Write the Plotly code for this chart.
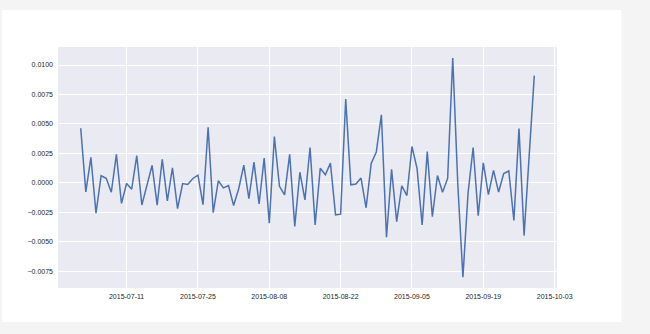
import pandas as pd
import plotly.graph_objects as go

dates = pd.date_range("2015-07-02", "2015-09-29", freq="D")
values = [
    0.00463, -0.00077, 0.00216, -0.00258, 0.00060, 0.00038, -0.00080, 0.00241, -0.00175, -0.00006,
    -0.00054, 0.00230, -0.00188, -0.00010, 0.00148, -0.00190, 0.00200, -0.00153, 0.00128, -0.00219,
    -0.00006, -0.00014, 0.00037, 0.00065, -0.00185, 0.00472, -0.00253, 0.00017, -0.00043, -0.00023,
    -0.00193, -0.00050, 0.00150, -0.00134, 0.00175, -0.00180, 0.00210, -0.00342, 0.00392, -0.00030,
    -0.00102, 0.00242, -0.00370, 0.00090, -0.00145, 0.00300, -0.00357, 0.00123, 0.00068, 0.00167,
    -0.00272, -0.00266, 0.00712, -0.00017, -0.00010, 0.00040, -0.00212, 0.00165, 0.00262, 0.00578,
    -0.00462, 0.00114, -0.00330, -0.00025, -0.00108, 0.00308, 0.00120, -0.00358, 0.00265, -0.00288,
    0.00062, -0.00080, 0.00037, 0.01060, -0.00020, -0.00802, -0.00090, 0.00300, -0.00280, 0.00170,
    -0.00100, 0.00105, -0.00078, 0.00078, 0.00100, -0.00320, 0.00460, -0.00448, 0.00230, 0.00910,
]
y_ticks = [-0.0075, -0.0050, -0.0025, 0.0, 0.0025, 0.0050, 0.0075, 0.0100]
x_ticks = ["2015-07-11", "2015-07-25", "2015-08-08", "2015-08-22",
           "2015-09-05", "2015-09-19", "2015-10-03"]

fig = go.Figure()
fig.add_trace(go.Scatter(x=dates, y=values, mode="lines",
                         line=dict(color="#4C72B0", width=1.5), showlegend=False))

fig.update_layout(
    width=650, height=334,
    margin=dict(l=58, r=93, t=47, b=46),
    paper_bgcolor="#f4f4f4",
    plot_bgcolor="rgba(0,0,0,0)",
    font=dict(family="Liberation Sans, Arial, sans-serif", size=7, color="#262626"),
    shapes=[
        dict(type="rect", xref="paper", yref="paper", layer="below",
             x0=-56/499.5, x1=(622-58)/499.5, y0=-(322-288)/241, y1=(288-10)/241,
             fillcolor="white", line=dict(width=0)),
        dict(type="rect", xref="x domain", yref="y domain", layer="below",
             x0=0, x1=1, y0=0, y1=1, fillcolor="#EAEAF2", line=dict(width=0)),
    ],
)
fig.update_xaxes(
    range=["2015-06-27 13:00", "2015-10-03 11:00"],
    tickvals=x_ticks, ticktext=x_ticks,
    showgrid=True, gridcolor="white", gridwidth=1, zeroline=False,
    showline=False, ticks="", ticklabelstandoff=3,
)
fig.update_yaxes(
    range=[-0.00893, 0.01153],
    tickvals=y_ticks, tickformat=".4f",
    showgrid=True, gridcolor="white", gridwidth=1, zeroline=False,
    showline=False, ticks="", ticklabelstandoff=4,
)

fig.write_html("out.html")
